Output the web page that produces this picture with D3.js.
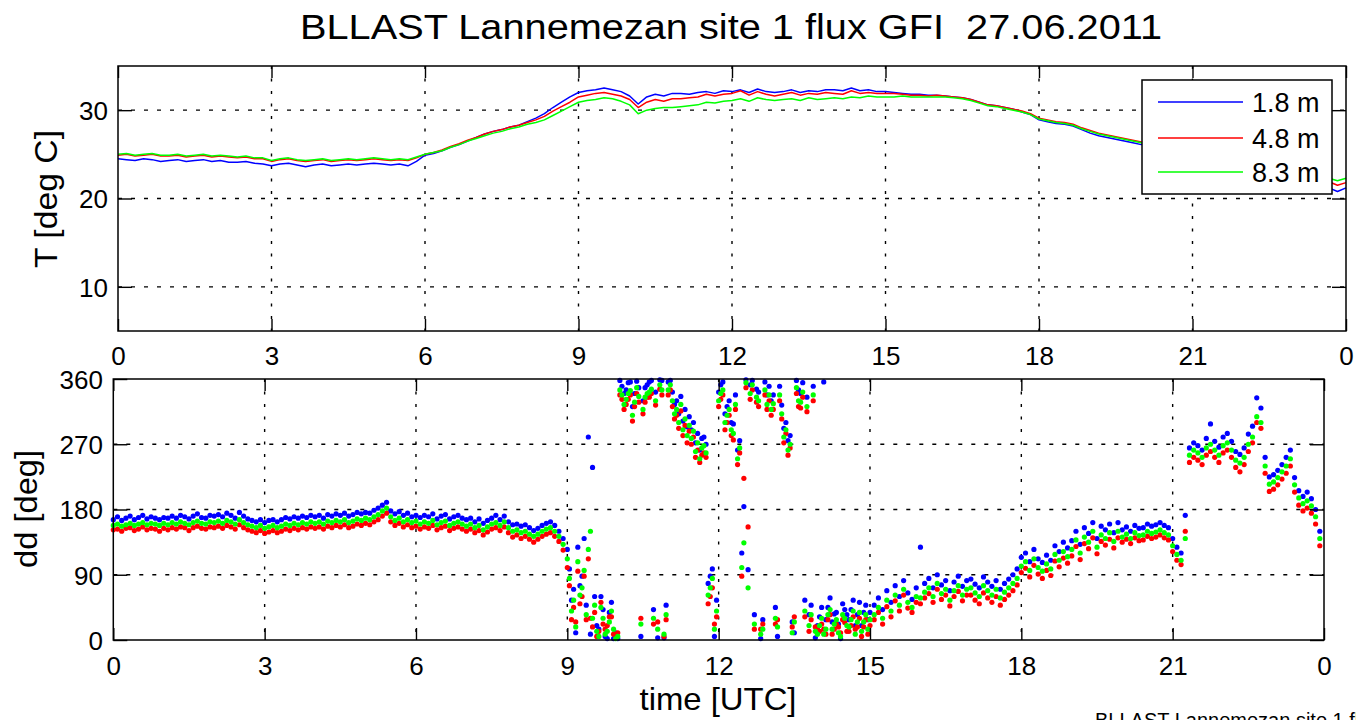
<!DOCTYPE html>
<html>
<head>
<meta charset="utf-8">
<script src="https://cdn.jsdelivr.net/npm/d3@7"></script>
<style>
  html, body { margin: 0; padding: 0; background: #fff; }
  svg { display: block; }
  text { font-family: "Liberation Sans", Arial, sans-serif; fill: #000; }
</style>
</head>
<body>
<svg id="chart" width="1356" height="720"></svg>
<script>
// ---- Data ----------------------------------------------------------------
const titleText = "BLLAST Lannemezan site 1 flux GFI\u00a0\u00a027.06.2011";
const footerText = "BLLAST Lannemezan site 1 flux GFI 27.06.2011";
const seriesNames = ["1.8 m", "4.8 m", "8.3 m"];
const seriesColors = ["#0000ff", "#ff0000", "#00ff00"];

const hourTicks = [0, 3, 6, 9, 12, 15, 18, 21, 24];
const hourTickLabels = ["0", "3", "6", "9", "12", "15", "18", "21", "0"];
const tempTicks = [10, 20, 30];
const ddTicks = [0, 90, 180, 270, 360];

// Air temperature [deg C], 10-minute values from 00:00 to 24:00 UTC
const temp18 = [
  24.5, 24.4, 24.3, 24.5, 24.4, 24.2,
  24.3, 24.4, 24.2, 24.3, 24.4, 24.2,
  24.3, 24.1, 24.1, 24.2, 24.0, 23.9,
  23.7, 23.9, 24.0, 23.8, 23.6, 23.8,
  23.9, 23.7, 23.8, 23.9, 23.8, 23.9,
  24.0, 23.9, 23.8, 23.9, 23.7, 24.2,
  24.9, 25.1, 25.4, 25.8, 26.1, 26.5,
  26.9, 27.3, 27.6, 27.8, 28.1, 28.3,
  28.7, 29.1, 29.6, 30.3, 30.9, 31.5,
  32.0, 32.2, 32.3, 32.5, 32.3, 32.1,
  31.6, 30.7, 31.5, 31.8, 31.6, 31.9,
  31.9, 31.8, 32.0, 32.1, 31.9, 32.2,
  32.1, 32.3, 32.0, 32.4, 32.1, 32.0,
  32.1, 32.3, 32.0, 32.2, 32.1, 32.3,
  32.3, 32.2, 32.5, 32.2, 32.3, 32.1,
  32.1, 32.0, 31.9, 31.8, 31.8, 31.7,
  31.7, 31.6, 31.5, 31.4, 31.2, 30.9,
  30.6, 30.5, 30.3, 30.1, 29.8, 29.5,
  28.9, 28.7, 28.5, 28.4, 28.2, 27.8,
  27.4, 27.1, 26.9, 26.7, 26.5, 26.3,
  26.1, 26.0, 25.8, 25.7, 25.5, 25.4,
  25.3, 25.1, 25.0, 24.8, 24.6, 24.4,
  24.2, 24.0, 23.8, 23.6, 23.4, 23.2,
  22.9, 22.6, 22.2, 21.8, 21.2, 20.8,
  21.2
];
const temp48 = [
  24.9, 25.0, 24.8, 24.9, 25.0, 24.8,
  24.8, 24.9, 24.7, 24.8, 24.9, 24.7,
  24.8, 24.7, 24.6, 24.7, 24.5, 24.5,
  24.2, 24.4, 24.5, 24.3, 24.2, 24.3,
  24.4, 24.2, 24.3, 24.4, 24.3, 24.4,
  24.5, 24.4, 24.3, 24.4, 24.3, 24.6,
  25.0, 25.2, 25.5, 25.9, 26.2, 26.6,
  26.9, 27.3, 27.6, 27.8, 28.1, 28.3,
  28.6, 28.9, 29.3, 29.9, 30.4, 30.9,
  31.5, 31.7, 31.9, 32.0, 31.8, 31.6,
  31.2, 30.3, 30.9, 31.2, 31.0, 31.3,
  31.3, 31.4, 31.5, 31.8, 31.6, 31.8,
  31.9, 32.2, 31.7, 32.1, 31.8, 31.6,
  31.8, 32.0, 31.7, 31.9, 31.8, 32.0,
  31.9, 31.8, 32.2, 31.9, 32.0, 31.9,
  31.9, 31.9, 31.8, 31.7, 31.7, 31.6,
  31.7, 31.6, 31.5, 31.4, 31.2, 30.9,
  30.6, 30.5, 30.3, 30.1, 29.9, 29.6,
  29.1, 28.9, 28.7, 28.6, 28.4, 28.0,
  27.7, 27.4, 27.2, 27.0, 26.8, 26.6,
  26.4, 26.3, 26.1, 26.0, 25.8, 25.7,
  25.5, 25.3, 25.2, 25.0, 24.8, 24.6,
  24.4, 24.2, 24.0, 23.8, 23.6, 23.4,
  23.1, 22.8, 22.5, 22.2, 21.9, 21.5,
  21.8
];
const temp83 = [
  25.0, 25.1, 24.9, 25.0, 25.1, 24.9,
  24.9, 25.0, 24.8, 24.9, 25.0, 24.8,
  24.9, 24.8, 24.7, 24.8, 24.6, 24.6,
  24.3, 24.5, 24.6, 24.4, 24.3, 24.4,
  24.5, 24.3, 24.4, 24.5, 24.4, 24.5,
  24.6, 24.5, 24.4, 24.5, 24.4, 24.7,
  25.0, 25.2, 25.4, 25.8, 26.1, 26.5,
  26.8, 27.1, 27.4, 27.6, 27.9, 28.1,
  28.4, 28.6, 28.9, 29.4, 29.9, 30.4,
  30.9, 31.1, 31.2, 31.4, 31.3, 31.0,
  30.6, 29.6, 30.0, 30.2, 30.3, 30.3,
  30.4, 30.5, 30.6, 30.9, 30.8, 31.0,
  31.1, 31.3, 31.0, 31.4, 31.2, 31.1,
  31.2, 31.3, 31.1, 31.4, 31.2, 31.3,
  31.4, 31.3, 31.5, 31.4, 31.6, 31.5,
  31.5, 31.5, 31.6, 31.5, 31.5, 31.5,
  31.5, 31.5, 31.4, 31.3, 31.1, 30.8,
  30.5, 30.4, 30.2, 30.0, 29.8, 29.5,
  29.0, 28.8, 28.6, 28.5, 28.3, 27.9,
  27.6, 27.3, 27.1, 26.9, 26.7, 26.5,
  26.3, 26.2, 26.0, 25.9, 25.7, 25.6,
  25.5, 25.3, 25.2, 25.0, 24.8, 24.6,
  24.4, 24.2, 24.0, 23.8, 23.6, 23.4,
  23.2, 23.0, 22.8, 22.6, 22.3, 22.0,
  22.3
];

// Wind direction [deg], 5-minute values from 00:00 to 23:55 UTC (one row per hour)
const dd18 = [
  166,170,165,168,171,166,169,172,167,170,168,166,
  169,168,171,168,172,170,167,171,174,169,168,172,
  171,173,170,175,172,168,176,171,167,165,163,166,
  162,165,166,163,166,169,167,170,168,171,169,172,
  170,172,168,173,171,174,172,175,171,173,176,174,
  176,175,179,182,186,190,178,174,177,172,175,170,
  172,169,172,170,174,167,171,173,167,170,172,168,
  166,168,163,167,161,165,168,172,166,171,163,159,
  160,157,159,155,151,154,158,161,163,158,150,140,
  125,55,10,75,140,280,238,20,60,5,38,2,
  2,350,345,356,340,348,330,352,358,342,359,3,
  356,342,330,336,318,308,300,285,278,270,88,5,
  342,356,322,300,338,275,184,97,358,346,2,356,
  350,338,5,324,300,282,10,345,355,335,48,3,
  32,356,45,25,38,2,42,28,55,35,20,48,
  38,48,58,42,68,52,75,60,82,65,56,72,
  128,78,85,72,90,76,82,68,80,88,74,82,
  84,77,72,87,80,74,82,70,78,84,90,98,
  114,120,108,125,112,107,117,110,130,122,135,127,
  137,150,132,155,147,162,140,157,152,160,148,162,
  152,156,150,158,154,155,160,157,159,162,158,155,
  140,128,120,172,265,272,268,262,278,298,274,266,
  280,285,274,260,256,265,284,295,334,320,252,225,
  228,234,242,252,262,224,206,198,204,195,180,150
];
const dd48 = [
  152,153,150,154,155,151,153,156,152,154,153,150,
  154,152,155,153,156,155,151,155,157,154,153,156,
  155,157,154,158,156,153,159,155,152,150,148,151,
  147,149,151,148,150,153,151,154,152,155,153,156,
  154,156,153,157,155,158,156,159,155,157,160,158,
  161,159,163,166,171,175,163,158,161,156,159,155,
  157,153,156,154,158,152,155,157,151,154,156,153,
  150,153,148,151,145,149,153,155,151,156,148,142,
  145,140,143,139,135,139,143,146,148,143,136,124,
  100,28,25,50,88,112,18,5,52,15,32,8,
  10,332,325,338,322,328,312,335,340,324,346,5,
  338,322,310,316,296,288,280,262,255,252,60,22,
  322,338,300,282,318,258,223,156,345,328,15,338,
  330,318,28,305,285,265,32,322,335,315,28,18,
  12,15,28,8,22,10,24,12,32,18,5,28,
  20,28,38,22,46,32,54,40,62,44,38,52,
  50,58,64,52,70,56,62,47,60,67,54,62,
  62,55,50,65,58,52,60,48,56,62,68,76,
  93,99,87,103,91,85,96,89,109,101,113,106,
  116,129,111,133,126,141,119,136,131,139,127,141,
  135,139,133,141,137,138,143,140,142,145,141,138,
  122,110,104,150,245,252,248,242,255,260,252,245,
  258,262,252,238,232,242,260,272,300,292,230,205,
  208,214,222,230,240,204,186,178,182,175,160,130
];
const dd83 = [
  158,160,157,159,161,158,160,162,159,161,160,158,
  161,159,162,160,163,161,159,162,164,161,160,163,
  162,164,161,165,163,160,166,162,159,157,155,158,
  154,156,158,155,157,160,158,161,159,162,160,163,
  161,163,160,164,162,165,163,166,162,164,167,165,
  168,166,170,173,178,182,170,165,168,163,166,162,
  164,160,163,161,165,159,162,164,158,161,163,160,
  157,160,155,158,152,156,160,162,158,163,155,150,
  152,148,150,146,143,146,150,153,155,150,143,132,
  112,40,18,62,96,125,30,12,45,8,25,15,
  5,338,332,344,328,336,318,340,346,330,352,8,
  345,330,318,325,305,296,288,272,265,258,72,15,
  330,345,310,290,325,265,134,72,352,335,8,345,
  338,326,18,312,290,270,25,330,342,322,35,12,
  20,8,35,15,28,5,30,18,40,25,12,35,
  28,35,45,30,55,40,62,48,70,52,45,60,
  58,66,72,60,78,64,70,55,68,75,62,70,
  72,65,60,75,68,62,70,58,66,72,78,85,
  102,108,96,112,100,95,105,98,118,110,122,115,
  125,138,120,142,135,150,128,145,140,148,136,150,
  142,146,140,148,144,145,150,147,149,152,148,145,
  130,118,110,140,255,262,258,252,265,270,262,255,
  268,272,262,248,244,252,270,280,308,300,240,215,
  218,224,232,240,250,214,196,188,192,185,170,140
];

// Extra wind-direction samples in the unsteady 09-15 UTC window,
// taken half-way between the 5-minute values (09:02:30 ... 14:57:30)
const dd18Mid = [
  98,70,128,88,48,8,60,15,42,2,52,10,
  358,340,355,322,357,5,348,356,42,3,358,48,
  358,325,312,302,294,290,272,262,280,78,98,55,
  352,312,330,298,262,120,359,352,35,342,28,338,
  330,45,350,292,275,25,358,340,55,35,350,20,
  45,28,58,36,22,50,35,42,20,52,38,28
];
const dd48Mid = [
  75,45,95,60,28,30,38,12,22,20,32,8,
  338,318,332,302,340,30,328,335,22,25,338,28,
  345,305,292,282,272,270,252,245,258,50,72,32,
  332,290,310,276,242,88,348,332,15,322,22,318,
  310,22,330,272,255,18,340,320,32,12,330,15,
  22,8,35,15,18,28,12,20,15,30,18,8
];
const dd83Mid = [
  85,55,108,72,35,150,48,5,30,12,40,2,
  345,325,340,310,348,22,335,342,30,15,345,35,
  352,312,300,290,282,278,260,250,268,62,85,40,
  340,300,318,285,250,100,355,340,22,330,15,325,
  318,30,338,280,262,10,348,328,40,20,338,8,
  30,15,42,22,10,35,20,28,8,38,25,15
];

// Sampling grids (hours UTC)
const tempHours = d3.range(145).map(i => i / 6);
const ddHours = d3.range(288).map(i => i / 12);
const ddMidHours = d3.range(72).map(i => 9 + (i + 0.5) / 12);

// ---- Layout ----------------------------------------------------------------
const svg = d3.select("#chart");
const font = "Liberation Sans, Arial, sans-serif";

const tBox = { left: 118, right: 1346, top: 66, bottom: 331 };
const dBox = { left: 113.3, right: 1324, top: 379, bottom: 640 };

const xT = d3.scaleLinear().domain([0, 24]).range([tBox.left, tBox.right]);
const yT = d3.scaleLinear().domain([5, 35]).range([tBox.bottom, tBox.top]);
const xD = d3.scaleLinear().domain([0, 24]).range([dBox.left, dBox.right]);
const yD = d3.scaleLinear().domain([0, 360]).range([dBox.bottom, dBox.top]);

// Title
svg.append("text")
  .attr("x", 731).attr("y", 39)
  .attr("text-anchor", "middle")
  .attr("textLength", 862).attr("lengthAdjust", "spacingAndGlyphs")
  .style("font-size", "35px")
  .text(titleText);

// dotted grid lines at the interior ticks
function drawGrid(box, xs, ys, yTickVals) {
  const grid = svg.append("g").attr("stroke", "#000").attr("stroke-width", 1.4);
  hourTicks.slice(1, -1).forEach(h => {
    grid.append("line")
      .attr("x1", xs(h)).attr("x2", xs(h))
      .attr("y1", box.top).attr("y2", box.bottom)
      .attr("stroke-dasharray", "3,9.5");
  });
  yTickVals.forEach(v => {
    const y = ys(v);
    if (Math.abs(y - box.top) < 1 || Math.abs(y - box.bottom) < 1) return;
    grid.append("line")
      .attr("x1", box.left).attr("x2", box.right)
      .attr("y1", y).attr("y2", y)
      .attr("stroke-dasharray", "4,9");
  });
}

// boxed axes with inward ticks on all four sides
function drawAxes(box, xs, ys, yTickVals, xLabelBaseline, yLabelRight) {
  const g = svg.append("g");
  const tl = 12;
  const ax = g.append("g").attr("transform", `translate(0,${box.bottom})`)
    .call(d3.axisBottom(xs).tickValues(hourTicks)
      .tickFormat((d, i) => hourTickLabels[i])
      .tickSizeInner(-tl).tickSizeOuter(0).tickPadding(0));
  ax.select(".domain").remove();
  ax.selectAll("line").attr("stroke", "#000").attr("stroke-width", 1.4);
  ax.selectAll("text").attr("y", xLabelBaseline - box.bottom).attr("dy", null)
    .style("font-size", "26px").style("font-family", font).attr("fill", "#000");

  const axT = g.append("g").attr("transform", `translate(0,${box.top})`)
    .call(d3.axisTop(xs).tickValues(hourTicks).tickFormat("")
      .tickSizeInner(-tl).tickSizeOuter(0));
  axT.select(".domain").remove();
  axT.selectAll("line").attr("stroke", "#000").attr("stroke-width", 1.4);

  const ay = g.append("g").attr("transform", `translate(${box.left},0)`)
    .call(d3.axisLeft(ys).tickValues(yTickVals)
      .tickSizeInner(-14).tickSizeOuter(0).tickPadding(0));
  ay.select(".domain").remove();
  ay.selectAll("line").attr("stroke", "#000").attr("stroke-width", 1.4);
  ay.selectAll("text").attr("x", yLabelRight - box.left).attr("dy", "0.36em")
    .style("font-size", "26px").style("font-family", font).attr("fill", "#000");

  const ayR = g.append("g").attr("transform", `translate(${box.right},0)`)
    .call(d3.axisRight(ys).tickValues(yTickVals).tickFormat("")
      .tickSizeInner(-14).tickSizeOuter(0));
  ayR.select(".domain").remove();
  ayR.selectAll("line").attr("stroke", "#000").attr("stroke-width", 1.4);

  g.append("rect")
    .attr("x", box.left).attr("y", box.top)
    .attr("width", box.right - box.left).attr("height", box.bottom - box.top)
    .attr("fill", "none").attr("stroke", "#000").attr("stroke-width", 1.5);
}

// ---- Upper panel: temperature -------------------------------------------
drawGrid(tBox, xT, yT, tempTicks);

const tempSeries = [temp18, temp48, temp83];
const line = d3.line().x((d, i) => xT(tempHours[i])).y(d => yT(d));
const linesG = svg.append("g");
tempSeries.forEach((s, k) => {
  linesG.append("path")
    .datum(s)
    .attr("d", line)
    .attr("fill", "none")
    .attr("stroke", seriesColors[k])
    .attr("stroke-width", 1.5)
    .attr("stroke-linejoin", "round");
});

drawAxes(tBox, xT, yT, tempTicks, 365, 108);

svg.append("text")
  .attr("transform", "translate(57,199) rotate(-90)")
  .attr("text-anchor", "middle")
  .attr("textLength", 138).attr("lengthAdjust", "spacingAndGlyphs")
  .style("font-size", "32px")
  .text("T [deg C]");

// legend
const lg = svg.append("g");
lg.append("rect")
  .attr("x", 1142).attr("y", 80).attr("width", 190).attr("height", 114)
  .attr("fill", "#fff").attr("stroke", "#000").attr("stroke-width", 1.5);
const legendRows = [102, 138, 172];
seriesNames.forEach((name, k) => {
  lg.append("line")
    .attr("x1", 1158).attr("x2", 1243)
    .attr("y1", legendRows[k]).attr("y2", legendRows[k])
    .attr("stroke", seriesColors[k]).attr("stroke-width", 1.5);
  lg.append("text")
    .attr("x", 1252).attr("y", legendRows[k] + 10)
    .style("font-size", "27px")
    .text(name);
});

// ---- Lower panel: wind direction -----------------------------------------
drawGrid(dBox, xD, yD, ddTicks);

const ddSeries = [dd18, dd48, dd83];
const ddMidSeries = [dd18Mid, dd48Mid, dd83Mid];
const dotsG = svg.append("g");
ddSeries.forEach((s, k) => {
  const sg = dotsG.append("g").attr("fill", seriesColors[k]);
  sg.selectAll("circle.main")
    .data(s)
    .join("circle")
    .attr("class", "main")
    .attr("cx", (d, i) => xD(ddHours[i]))
    .attr("cy", d => yD(d))
    .attr("r", 2.6);
  sg.selectAll("circle.mid")
    .data(ddMidSeries[k])
    .join("circle")
    .attr("class", "mid")
    .attr("cx", (d, i) => xD(ddMidHours[i]))
    .attr("cy", d => yD(d))
    .attr("r", 2.6);
});

drawAxes(dBox, xD, yD, ddTicks, 675, 103);

svg.append("text")
  .attr("transform", "translate(37,509) rotate(-90)")
  .attr("text-anchor", "middle")
  .attr("textLength", 118).attr("lengthAdjust", "spacingAndGlyphs")
  .style("font-size", "32px")
  .text("dd [deg]");

svg.append("text")
  .attr("x", 718).attr("y", 710)
  .attr("text-anchor", "middle")
  .attr("textLength", 157).attr("lengthAdjust", "spacingAndGlyphs")
  .style("font-size", "32px")
  .text("time [UTC]");

// footer
svg.append("text")
  .attr("x", 1095).attr("y", 727)
  .style("font-size", "20px")
  .text(footerText);
</script>
</body>
</html>
